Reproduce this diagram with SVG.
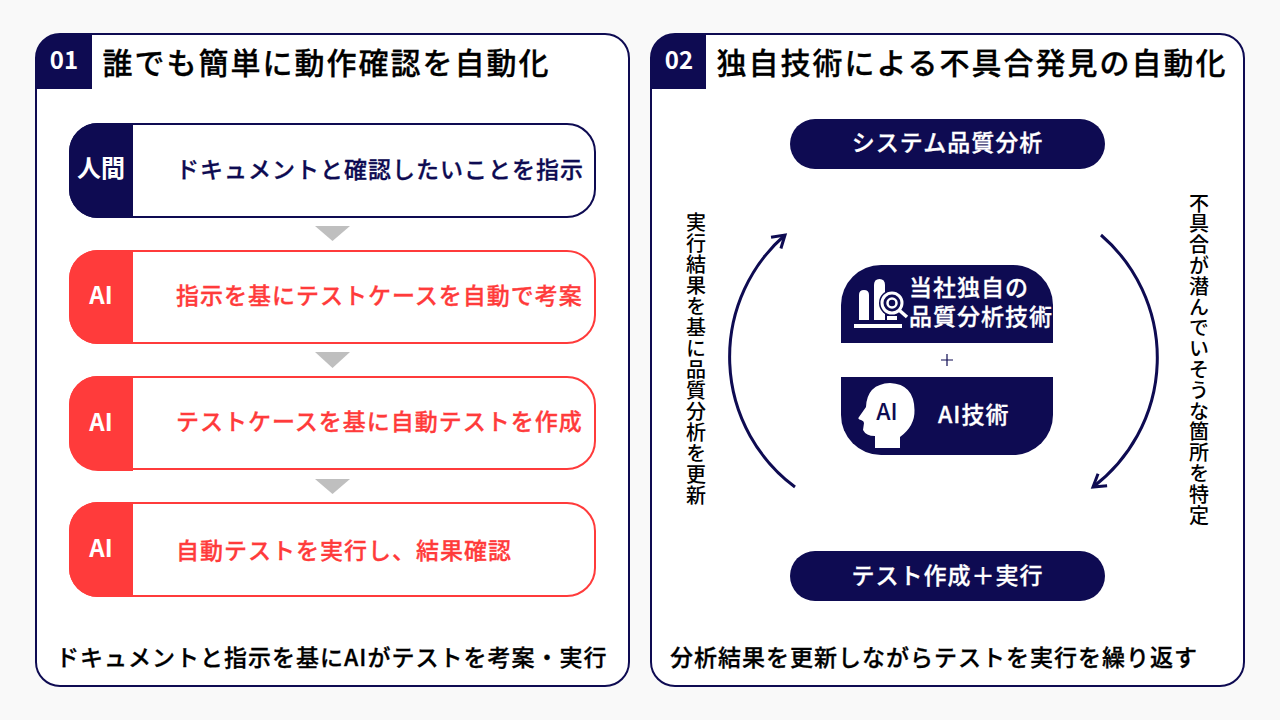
<svg xmlns="http://www.w3.org/2000/svg" width="1280" height="720" viewBox="0 0 1280 720">
<style>
text{font-family:"Noto Sans CJK JP","Noto Sans",sans-serif;font-weight:500;stroke-width:.3px}
.panel{fill:#fff;stroke:#0e0b52;stroke-width:2}
.title{font-size:30px;letter-spacing:2px;fill:#000;stroke:#000}
.num{font-size:24px;font-weight:700;fill:#fff;text-anchor:middle}
.row{fill:#fff;stroke-width:2}
.navy{stroke:#0e0b52}.red{stroke:#ff3b3b}
.fnavy{fill:#0e0b52}.fred{fill:#ff3b3b}
.rt{font-size:23px;letter-spacing:1px}
.tag{font-size:24px;font-weight:700;fill:#fff;text-anchor:middle}
.tri{fill:#bfbfbf}
.foot{font-size:23px;letter-spacing:1px;fill:#000;stroke:#000}
.pill{font-size:23px;letter-spacing:1px;fill:#fff;stroke:#fff;text-anchor:middle}
.ct{font-size:23px;letter-spacing:1px;fill:#fff;stroke:#fff}
.vt{font-size:20px;letter-spacing:1px;fill:#000;writing-mode:vertical-rl}
.arc{fill:none;stroke:#0e0b52;stroke-width:3;marker-end:url(#arr)}
</style>
<defs>
<marker id="arr" markerUnits="userSpaceOnUse" markerWidth="20" markerHeight="20" refX="15" refY="10" orient="auto">
<path d="M3 2.500L15 10L3 17.500" fill="none" stroke="#0e0b52" stroke-width="3"/>
</marker>
</defs>
<rect width="1280" height="720" fill="#f9f9f9"/>

<g id="panel-1">
<rect class="panel" x="36" y="34" width="593" height="652" rx="24"/>
<path class="fnavy" d="M92 34V89H36V58A24 24 0 0 1 60 34Z"/>
<text class="num" x="64" y="69">01</text>
<text class="title" x="102.500" y="74">誰でも簡単に動作確認を自動化</text>
<text class="foot" x="56" y="666">ドキュメントと指示を基にAIがテストを考案・実行</text>
</g>

<g id="step-1">
<rect class="row navy" x="70" y="124" width="525" height="93" rx="28"/>
<path class="fnavy" d="M133 123V218H98A29 29 0 0 1 69 189V152A29 29 0 0 1 98 123Z"/>
<text class="tag" x="101" y="177">人間</text>
<text class="rt fnavy navy" x="176" y="178">ドキュメントと確認したいことを指示</text>
</g>
<g id="step-2">
<rect class="row red" x="70" y="251" width="525" height="92" rx="28"/>
<path class="fred" d="M133 250V344H98A29 29 0 0 1 69 315V279A29 29 0 0 1 98 250Z"/>
<text class="tag" x="101" y="304">AI</text>
<text class="rt fred red" x="176" y="304">指示を基にテストケースを自動で考案</text>
</g>
<g id="step-3">
<rect class="row red" x="70" y="377" width="525" height="92" rx="28"/>
<path class="fred" d="M133 376V471H98A29 29 0 0 1 69 442V405A29 29 0 0 1 98 376Z"/>
<text class="tag" x="101" y="431">AI</text>
<text class="rt fred red" x="176" y="430">テストケースを基に自動テストを作成</text>
</g>
<g id="step-4">
<rect class="row red" x="70" y="503" width="525" height="93" rx="28"/>
<path class="fred" d="M133 502V597H98A29 29 0 0 1 69 568V531A29 29 0 0 1 98 502Z"/>
<text class="tag" x="101" y="557">AI</text>
<text class="rt fred red" x="176" y="559">自動テストを実行し、結果確認</text>
</g>

<g id="panel-2">
<rect class="panel" x="651" y="34" width="593" height="652" rx="24"/>
<path class="fnavy" d="M706 34V89H651V58A24 24 0 0 1 675 34Z"/>
<text class="num" x="679" y="69">02</text>
<text class="title" x="716.500" y="74">独自技術による不具合発見の自動化</text>
<text class="foot" x="670" y="666">分析結果を更新しながらテストを実行を繰り返す</text>
</g>

<g id="pill-top">
<rect class="fnavy" x="790" y="119" width="315" height="50" rx="25"/>
<text class="pill" x="947.500" y="151">システム品質分析</text>
</g>
<g id="pill-bottom">
<rect class="fnavy" x="790" y="551" width="315" height="50" rx="25"/>
<text class="pill" x="947.500" y="584">テスト作成＋実行</text>
</g>

<g id="core-1">
<path class="fnavy" d="M841 343V305A40 40 0 0 1 881 265H1013A40 40 0 0 1 1053 305V343Z"/>
<g fill="#fff">
<path d="M859 320V295Q859 290 864 290Q869 290 869 295V320Z"/>
<path d="M874 320V285Q874 279 879.500 279Q885 279 885 285V320Z"/>
<path d="M887 316h10v4h-10z"/>
<rect x="854" y="324" width="48" height="4"/>
</g>
<circle cx="892" cy="303" r="13" fill="#0e0b52"/>
<circle cx="892" cy="303" r="10" fill="#0e0b52" stroke="#fff" stroke-width="3"/>
<circle cx="892" cy="303" r="4.500" fill="none" stroke="#fff" stroke-width="2.500"/>
<path d="M899 310L907 317" stroke="#fff" stroke-width="3.500"/>
<text class="ct"><tspan x="909" y="296">当社独自の</tspan><tspan x="909" y="325">品質分析技術</tspan></text>
</g>
<path id="plus" d="M941 360H953M947 354V366" stroke="#0e0b52" stroke-width="1.200" fill="none"/>
<g id="core-2">
<path class="fnavy" d="M841 377H1053V415A40 40 0 0 1 1013 455H881A40 40 0 0 1 841 415Z"/>
<path fill="#fff" d="M875 448V436Q866 436 863 430L864 423Q864 421 861 420Q857 419 859 417L866 407Q867 384 890 383Q914 384 914.500 410Q915 426 900 437V448Z"/>
<text x="887" y="420" font-size="23" fill="#0e0b52" text-anchor="middle">AI</text>
<text class="ct" x="938" y="423">AI技術</text>
</g>

<g id="labels">
<text class="vt" x="696" y="212">実行結果を基に品質分析を更新</text>
<text class="vt" x="1199" y="193" style="letter-spacing:.8px">不具合が潜んでいそうな箇所を特定</text>
</g>

<g id="connectors">
<polygon class="tri" points="315,226 350,226 332.500,241"/>
<polygon class="tri" points="315,352 350,352 332.500,368"/>
<polygon class="tri" points="315,479 350,479 332.500,494"/>
<path class="arc" d="M795 487A162 162 0 0 1 785 235"/>
<path class="arc" d="M1101 235A162 162 0 0 1 1093 487"/>
</g>
</svg>
